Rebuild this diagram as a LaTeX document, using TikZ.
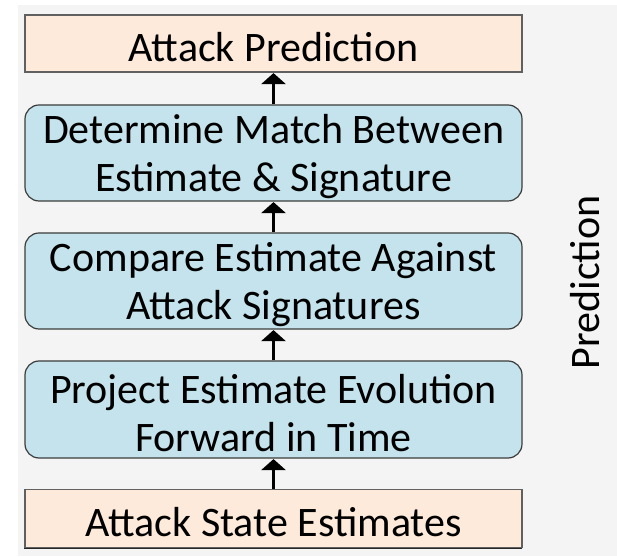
\documentclass[tikz,border=0pt]{standalone}
\usepackage{fontspec}
\setmainfont{Carlito}
\usetikzlibrary{arrows.meta}

\definecolor{panelgray}{HTML}{F4F4F4}
\definecolor{ioorange}{HTML}{FDEADA}
\definecolor{stepblue}{HTML}{C4E3EC}
\definecolor{edgegray}{HTML}{3C3C3C}
\definecolor{ioedge}{HTML}{606060}

\tikzset{
  boxbase/.style={line width=1.2pt, minimum width=497pt,
    inner sep=0pt, align=center, text=black,
    font=\fontsize{42pt}{48pt}\selectfont},
  iobox/.style={boxbase, draw=ioedge, fill=ioorange, rectangle,
    preaction={draw=black!85, line width=1.2pt,
      transform canvas={xshift=-0.9pt, yshift=-0.9pt}}},
  stagebox/.style={boxbase, draw=edgegray, fill=stepblue, rounded corners=14pt},
  flow/.style={line width=3.6pt, black,
    -{Triangle[width=24pt,length=11pt]}, shorten >=0.5pt},
}

\begin{document}
\begin{tikzpicture}[x=1pt,y=1pt]
  \useasboundingbox (0,0) rectangle (617,556);
  \fill[white] (0,0) rectangle (617,556);
  \fill[panelgray] (18,0) rectangle (617,551);

  % processing chain, bottom to top
  \node[iobox, minimum height=58pt] (ase) at (273.5,37.75)
    {\rule{0pt}{36pt}Attack State Estimates};
  \node[stagebox, minimum height=97pt] (prj) at (273.5,146.5)
    {\rule{0pt}{36pt}Project Estimate Evolution\\Forward in Time};
  \node[stagebox, minimum height=96pt] (cmp) at (273.5,275)
    {\rule{0pt}{36pt}Compare Estimate Against\\Attack Signatures};
  \node[stagebox, minimum height=96pt] (det) at (273.5,403)
    {\rule{0pt}{36pt}Determine Match Between\\Estimate \& Signature};
  \node[iobox, minimum height=57pt] (ap) at (273.5,512.5)
    {\rule{0pt}{36pt}Attack Prediction};

  \draw[flow] (ase.north) -- (prj.south);
  \draw[flow] (prj.north) -- (cmp.south);
  \draw[flow] (cmp.north) -- (det.south);
  \draw[flow] (det.north) -- (ap.south);

  % side label of the stage
  \node[rotate=90, anchor=base, inner sep=0pt,
        font=\fontsize{42pt}{48pt}\selectfont] (stage) at (599,273.5) {Prediction};
\end{tikzpicture}
\end{document}
